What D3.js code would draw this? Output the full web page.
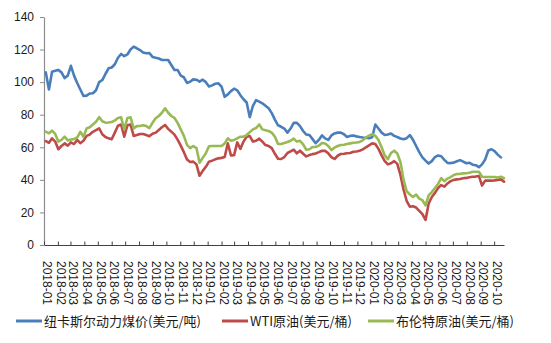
<!DOCTYPE html>
<html>
<head>
<meta charset="utf-8">
<script src="https://cdn.jsdelivr.net/npm/d3@7/dist/d3.min.js"></script>
<style>
  html, body { margin: 0; padding: 0; background: #fff; }
  svg { display: block; }
  .axis text { font-family: "Liberation Sans", Arial, sans-serif; font-size: 12px; fill: #1a1a1a; }
  .legend text { font-family: "Noto Sans CJK SC", "Liberation Sans", sans-serif; font-size: 13px; fill: #1a1a1a; }
</style>
</head>
<body>
<svg id="chart" width="551" height="343"></svg>
<script>
// Weekly prices, first observation on 2018-01-05
const firstWeek = new Date(2018, 0, 5);

// 纽卡斯尔动力煤价 (USD/t)
const coalPrice = [
  106, 95.5, 106.4, 107, 107.5, 106, 102.5, 104, 110, 104,
  99.5, 95.5, 91.5, 91.7, 93, 93.2, 95, 100, 101.3, 105,
  108.5, 109, 111, 115, 117.3, 116, 117, 120, 121.8, 120.8,
  119.7, 118.2, 117.7, 117.9, 115.5, 115, 114.5, 113.6, 113.6, 113.6,
  110.5, 107.5, 107.5, 104, 103, 99.5, 100.3, 101.7, 101.5, 100.3,
  101.5, 100, 97.3, 98, 99, 99.3, 97.2, 91, 92.5, 94.5,
  96, 95, 92, 89.5, 87.5, 78.5, 85.5, 89, 88, 87,
  85.5, 84, 81, 77, 73.5, 72.6, 71.5, 69, 71.5, 75,
  75, 73, 70, 67.8, 67.5, 65, 62.5, 64.5, 67.3, 65.5,
  64.5, 67.3, 68.5, 69, 69, 68, 66.3, 67, 67.2, 66.7,
  66.3, 66, 65.9, 65.6, 66.2, 74, 71.5, 69, 67.5, 67.8,
  68.5, 67, 66.3, 65.4, 64.9, 65.6, 67.5, 64.6, 60.8, 57,
  53.8, 51.8, 50, 51.5, 54, 55, 54.5, 52.3, 50.4, 50.3,
  50.6, 51.4, 52.1, 51.2, 50.2, 50.5, 49.3, 49, 47.8, 49.5,
  52.5, 58, 58.8, 57.6, 55.5, 53.8
];

// WTI原油 (USD/bbl)
const wtiPrice = [
  63.8, 62.8, 65.5, 63.5, 58.8, 60.8, 62.4, 61, 63, 62,
  64.5, 62.5, 64, 67, 67.8, 69.5, 70.5, 71.6, 68, 66.3,
  65.5, 64.9, 69, 73.2, 74, 66.5, 73.5, 74, 67, 67.5,
  68.2, 68.2, 67.5, 66.8, 68.3, 69, 70.6, 72.3, 73.7, 71.3,
  69.6, 67.8, 64.7, 61, 57, 52.5, 51, 51.2, 49.5, 42.5,
  45.5, 48, 51.2, 51.8, 52.6, 53.2, 53.5, 54, 62.5, 55,
  55.2, 63, 59, 63.5, 66.5, 66.9, 63.5, 64, 65.3, 63.5,
  61.4, 60.8, 59.5, 56, 53, 52.8, 54, 56.5, 57.5, 58.5,
  56.3, 57.9, 56, 54.4, 55.2, 55.8, 56.2, 57, 57.9, 57.8,
  56.3, 54, 52.8, 54.8, 55.9, 56, 56.3, 56.5, 57.3, 57.4,
  57.9, 58.7, 60, 61.2, 62.4, 62, 59, 55, 51.5, 49.5,
  50.2, 51.5, 49.8, 43, 34, 27, 23.5, 23.8, 23, 21,
  19, 15.4, 25.5, 29.5, 32, 35, 36.8, 35.8, 37.8, 39.2,
  40, 40.3, 40.5, 41, 41.2, 41.6, 41.9, 42, 42.4, 36.5,
  39.5, 39.5, 39.5, 39.7, 40, 40.3, 38.9
];

// 布伦特原油 (USD/bbl)
const brentPrice = [
  69.6, 68.6, 70.2, 68.2, 63.5, 64.5, 66.5, 64.2, 64.8, 65,
  66, 69.5, 66.5, 71.6, 72.3, 74, 75.7, 78.5, 76, 75.1,
  75.2, 75.5, 76.5, 78, 78.4, 71, 78, 78.4, 71.6, 73,
  73.1, 73.5, 73, 71.8, 75, 77.8, 79.2, 81.2, 83.9, 81.2,
  79.2, 78, 75, 71, 67, 61.5, 59.5, 60.8, 59.5, 50.5,
  53.5, 56.3, 60.6, 60.8, 60.8, 60.8, 60.8, 62.4, 65.5, 64,
  64.5, 65.5, 66.5, 66.5, 67.5, 69.3, 71, 71.8, 74, 71,
  70.4, 70, 69, 66.5, 62, 62, 62.6, 63.2, 64, 65.3,
  63.5, 64, 61.8, 58.5, 58.8, 60.2, 60.2, 61, 62.6, 62.3,
  60.8, 58.3, 59.8, 60.8, 61.4, 61.6, 62, 62.4, 62.8, 62.9,
  63.3, 64.3, 66, 67.2, 68.1, 67, 64.5, 60, 55, 52.7,
  56.5, 57.9, 56.2, 51, 40, 33, 31, 29.5, 31, 28.5,
  27.5, 24.3, 30.5, 32.5, 35, 37.5, 41, 39.2, 40.8, 41.7,
  43, 43.6, 43.7, 44, 44.1, 44.4, 45, 45, 45, 41.9,
  41.8, 41.8, 41.8, 41.8, 41.5, 41.9, 41
];

const monthLabels = [
  "2018-01", "2018-02", "2018-03", "2018-04", "2018-05", "2018-06",
  "2018-07", "2018-08", "2018-09", "2018-10", "2018-11", "2018-12",
  "2019-01", "2019-02", "2019-03", "2019-04", "2019-05", "2019-06",
  "2019-07", "2019-08", "2019-09", "2019-10", "2019-11", "2019-12",
  "2020-01", "2020-02", "2020-03", "2020-04", "2020-05", "2020-06",
  "2020-07", "2020-08", "2020-09", "2020-10"
];

const yTicks = [0, 20, 40, 60, 80, 100, 120, 140];

const seriesNames = ["纽卡斯尔动力煤价(美元/吨)", "WTI原油(美元/桶)", "布伦特原油(美元/桶)"];
const seriesColors = ["#4a7ebb", "#be4b48", "#98b954"];

// ---- layout ----
const svg = d3.select("#chart");
const plotLeft = 44, plotRight = 504, plotTop = 17, plotBottom = 245;

const parseMonth = d3.timeParse("%Y-%m");
const x = d3.scaleTime()
  .domain([new Date(2018, 0, 1), new Date(2020, 9, 23)])
  .range([plotLeft, plotRight]);
const y = d3.scaleLinear().domain([0, 140]).range([plotBottom, plotTop]);

const weekDate = i => d3.timeDay.offset(firstWeek, 7 * i);
const toPoints = arr => arr.map((v, i) => ({ date: weekDate(i), value: v }));

// ---- axes ----
const yAxis = svg.append("g")
  .attr("class", "axis")
  .attr("transform", `translate(${plotLeft},0)`)
  .call(d3.axisLeft(y).tickValues(yTicks).tickSizeInner(4).tickSizeOuter(0).tickPadding(6));
yAxis.select(".domain").attr("stroke", "#8c8c8c").attr("stroke-width", 1.2);
yAxis.selectAll(".tick line").attr("stroke", "#8c8c8c");

const xAxis = svg.append("g")
  .attr("class", "axis")
  .attr("transform", `translate(0,${plotBottom})`)
  .call(d3.axisBottom(x)
    .tickValues(monthLabels.map(parseMonth))
    .tickFormat(d3.timeFormat("%Y-%m"))
    .tickSizeInner(-3.5)
    .tickSizeOuter(0));
xAxis.select(".domain").attr("stroke", "#404040").attr("stroke-width", 1.2);
xAxis.selectAll(".tick line").attr("stroke", "#404040");
xAxis.selectAll(".tick text")
  .attr("transform", "rotate(90)")
  .attr("x", 16)
  .attr("y", -2.5)
  .attr("dy", "0.35em")
  .style("text-anchor", "start");

// ---- lines ----
const line = d3.line()
  .x(d => x(d.date))
  .y(d => y(d.value));

[coalPrice, wtiPrice, brentPrice].forEach((arr, k) => {
  svg.append("path")
    .datum(toPoints(arr))
    .attr("fill", "none")
    .attr("stroke", seriesColors[k])
    .attr("stroke-width", 2.6)
    .attr("stroke-linejoin", "round")
    .attr("stroke-linecap", "round")
    .attr("d", line);
});

// ---- legend ----
const legendY = 321;
const legendX = [16, 222, 368];
const legend = svg.append("g").attr("class", "legend");
seriesNames.forEach((name, k) => {
  const g = legend.append("g").attr("transform", `translate(${legendX[k]},${legendY})`);
  g.append("line")
    .attr("x1", 0).attr("x2", 26)
    .attr("y1", 0).attr("y2", 0)
    .attr("stroke", seriesColors[k])
    .attr("stroke-width", 3);
  g.append("text")
    .attr("x", 28)
    .attr("y", 0)
    .attr("dy", "0.36em")
    .text(name);
});
</script>
</body>
</html>
